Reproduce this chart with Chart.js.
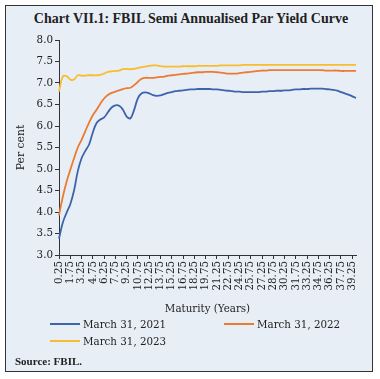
<!DOCTYPE html>
<html>
<head>
<meta charset="utf-8">
<script src="https://cdn.jsdelivr.net/npm/chart.js"></script>
<style>
html,body{margin:0;padding:0;background:#fff;}
body{width:380px;height:379px;position:relative;overflow:hidden;font-family:"DejaVu Serif",serif;color:#222;}
#frame{position:absolute;left:5px;top:5px;width:366px;height:365px;border:1.5px solid #333;background:#e8eef6;}
#title{position:absolute;left:0;top:11px;width:382px;text-align:center;font-family:"Liberation Serif",serif;font-weight:bold;font-size:14px;color:#222;}
#wrap{position:absolute;left:6px;top:30px;width:366px;height:290px;}
#legend{position:absolute;left:0;top:0;width:380px;height:379px;pointer-events:none;}
.li{position:absolute;font-size:10.3px;line-height:12px;white-space:nowrap;color:#222;}
.li span.sw{position:absolute;left:-33px;top:5px;width:30px;height:2px;}
#source{position:absolute;left:15px;top:355px;font-family:"Liberation Serif",serif;font-weight:bold;font-size:11px;color:#222;}
</style>
</head>
<body>
<div id="frame"></div>
<div id="title">Chart VII.1: FBIL Semi Annualised Par Yield Curve</div>
<div id="wrap"><canvas id="c"></canvas></div>
<div id="legend"></div>
<div id="source">Source: FBIL.</div>
<script>
const maturities = ["0.25","0.75","1.25","1.75","2.25","2.75","3.25","3.75","4.25","4.75",
"5.25","5.75","6.25","6.75","7.25","7.75","8.25","8.75","9.25","9.75",
"10.25","10.75","11.25","11.75","12.25","12.75","13.25","13.75","14.25","14.75",
"15.25","15.75","16.25","16.75","17.25","17.75","18.25","18.75","19.25","19.75",
"20.25","20.75","21.25","21.75","22.25","22.75","23.25","23.75","24.25","24.75",
"25.25","25.75","26.25","26.75","27.25","27.75","28.25","28.75","29.25","29.75",
"30.25","30.75","31.25","31.75","32.25","32.75","33.25","33.75","34.25","34.75",
"35.25","35.75","36.25","36.75","37.25","37.75","38.25","38.75","39.25","39.75"];

const seriesNames = ["March 31, 2021","March 31, 2022","March 31, 2023"];
const seriesColors = ["#3d63ab","#ec7b32","#f8bd2e"];

const yield2021 = [3.38,3.75,3.98,4.18,4.50,4.95,5.25,5.42,5.57,5.85,
6.07,6.15,6.20,6.32,6.43,6.48,6.47,6.38,6.22,6.18,
6.38,6.65,6.76,6.78,6.76,6.72,6.70,6.71,6.74,6.77,
6.79,6.81,6.82,6.83,6.84,6.85,6.85,6.86,6.86,6.86,
6.86,6.85,6.85,6.84,6.83,6.82,6.81,6.80,6.80,6.79,
6.79,6.79,6.79,6.79,6.80,6.80,6.81,6.81,6.82,6.82,
6.83,6.83,6.84,6.85,6.85,6.86,6.86,6.87,6.87,6.87,
6.87,6.86,6.85,6.84,6.82,6.79,6.76,6.73,6.69,6.65];

const yield2022 = [3.92,4.35,4.70,4.98,5.25,5.50,5.68,5.88,6.08,6.25,
6.38,6.52,6.64,6.72,6.77,6.80,6.83,6.86,6.88,6.89,
6.95,7.03,7.10,7.12,7.12,7.12,7.13,7.14,7.15,7.17,
7.18,7.19,7.20,7.21,7.22,7.23,7.24,7.25,7.25,7.26,
7.26,7.26,7.25,7.24,7.23,7.22,7.22,7.22,7.23,7.24,
7.25,7.26,7.27,7.28,7.29,7.29,7.30,7.30,7.30,7.30,
7.30,7.30,7.30,7.30,7.30,7.30,7.30,7.30,7.30,7.30,
7.30,7.29,7.29,7.29,7.29,7.28,7.28,7.28,7.28,7.28];

const yield2023 = [6.80,7.15,7.16,7.08,7.08,7.18,7.17,7.17,7.18,7.18,
7.18,7.19,7.22,7.26,7.27,7.28,7.29,7.32,7.33,7.32,
7.33,7.35,7.37,7.38,7.40,7.41,7.41,7.39,7.38,7.38,
7.38,7.38,7.38,7.39,7.39,7.39,7.39,7.40,7.40,7.40,
7.40,7.40,7.40,7.41,7.41,7.41,7.41,7.41,7.41,7.42,
7.42,7.42,7.42,7.42,7.42,7.42,7.42,7.42,7.42,7.42,
7.42,7.42,7.42,7.42,7.42,7.42,7.42,7.42,7.42,7.42,
7.42,7.42,7.42,7.42,7.42,7.42,7.42,7.42,7.42,7.42];

const yTicks = [3.0,3.5,4.0,4.5,5.0,5.5,6.0,6.5,7.0,7.5,8.0];
const labelEvery = 3;

const allSeries = [yield2021, yield2022, yield2023];
const axisColor = "#333";
const tickFont = {family:"DejaVu Serif", size:10.3};
const titleFont = {family:"DejaVu Serif", size:10.8};

const chart = new Chart(document.getElementById('c'), {
  type: 'line',
  data: {
    labels: maturities,
    datasets: allSeries.map((d,i)=>({
      label: seriesNames[i], data: d, borderColor: seriesColors[i], backgroundColor: seriesColors[i],
      borderWidth: 1.8, pointRadius: 0, tension: 0.4, fill: false
    }))
  },
  options: {
    responsive: true, maintainAspectRatio: false, animation: false,
    layout: {padding: {left: 9, right: 16, top: 10, bottom: 0}},
    plugins: {legend: {display: false}, tooltip: {enabled: false}},
    scales: {
      x: {
        offset: false,
        border: {display: true, color: axisColor, width: 1},
        grid: {drawOnChartArea: false, drawTicks: true, tickLength: 4,
               color: ctx => (ctx.index % labelEvery === 0 ? axisColor : 'rgba(0,0,0,0)')},
        ticks: {autoSkip: false, minRotation: 90, maxRotation: 90, padding: 2, color: '#222', font: tickFont,
                callback: (v, i) => (i % labelEvery === 0 ? maturities[i] : '')},
        title: {display: true, text: 'Maturity (Years)', color: '#222', font: tickFont, padding: {top: 2, bottom: 4}},
        afterFit: s => { s.height = 65; }
      },
      y: {
        min: yTicks[0], max: yTicks[yTicks.length-1],
        border: {display: true, color: axisColor, width: 1},
        grid: {drawOnChartArea: false, drawTicks: true, tickLength: 4, color: axisColor},
        afterBuildTicks: s => { s.ticks = yTicks.map(v => ({value: v})); },
        ticks: {color: '#222', font: tickFont, padding: 2, callback: v => Number(v).toFixed(1)},
        title: {display: true, text: 'Per cent', color: '#222', font: titleFont, padding: {top: 0, bottom: 4}},
        afterFit: s => { s.width = 44; }
      }
    }
  }
});

// legend (built from dataset names and colours)
const legendPos = [[83,318],[257,318],[83,335]];
const lg = document.getElementById('legend');
seriesNames.forEach((n,i)=>{
  const d = document.createElement('div');
  d.className = 'li';
  d.style.left = legendPos[i][0] + 'px';
  d.style.top = legendPos[i][1] + 'px';
  d.innerHTML = '<span class="sw" style="background:' + seriesColors[i] + '"></span>' + n;
  lg.appendChild(d);
});
</script>
</body>
</html>
